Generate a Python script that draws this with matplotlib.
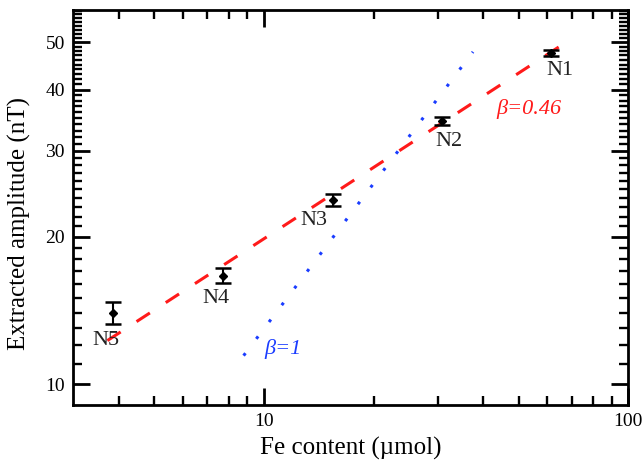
import matplotlib
matplotlib.use("Agg")
import matplotlib.pyplot as plt
from matplotlib.ticker import FixedLocator, NullFormatter

plt.rcParams.update({
    "font.family": ["Liberation Serif", "DejaVu Serif"],
})

# ── data ──────────────────────────────────────────────────────────────────────
samples = ["N1", "N2", "N3", "N4", "N5"]
fe_umol = [61.5, 30.8, 15.5, 7.72, 3.86]
amp_nT = [47.6, 34.5, 23.8, 16.67, 14.0]
amp_err = [0.7, 0.7, 0.65, 0.6, 0.75]

# guide lines: end points of the drawn fits
fit046_x = [3.72, 65.0]
fit046_y = [12.27, 49.1]
fit1_x = [8.8, 37.5]
fit1_y = [11.43, 47.8]

x_major = [10, 100]
x_minor = [4, 5, 6, 7, 8, 9, 20, 30, 40, 50, 60, 70, 80, 90]
y_major = [10, 20, 30, 40, 50]
y_minor = [v for v in range(9, 59) if v not in y_major]

# label offsets (points) from each data point
label_off = [(6.5, -12.5), (5, -14.5), (-14, -14.5), (-5, -16.3), (-5, -20)]

C_RED = "#ff1a1a"
C_BLUE = "#1a3cff"
W, H = 643, 462

fig = plt.figure(figsize=(W / 100, H / 100), dpi=100)
ax = fig.add_axes([0.114, 0.1234, 0.863, 0.8556])

ax.set_xscale("log")
ax.set_yscale("log")
ax.set_xlim(3.0, 100)
ax.set_ylim(9.06, 58.3)

ax.plot(fit046_x, fit046_y, color=C_RED, lw=2.2, dashes=(5.2, 6.2))
ax.plot(fit1_x, fit1_y, color=C_BLUE, lw=2.2, dashes=(1.0, 5.9))

ax.errorbar(fe_umol, amp_nT, yerr=amp_err, fmt="D", ms=4, color="black",
            ecolor="black", elinewidth=1.5, capsize=6, capthick=1.8, zorder=5)

for name, x, y, (dx, dy) in zip(samples, fe_umol, amp_nT, label_off):
    ax.annotate(name, (x, y), xytext=(dx, dy), textcoords="offset points",
                ha="center", va="center", fontsize=16, color="#222222")

# beta labels, placed in figure pixels (from top-left)
fig.text(529 / W, 1 - 109 / H, "\u03b2=0.46", fontsize=16, style="italic",
         color=C_RED, ha="center", va="center")
fig.text(283 / W, 1 - 349 / H, "\u03b2=1", fontsize=16, style="italic",
         color=C_BLUE, ha="center", va="center")

# ticks
ax.xaxis.set_major_locator(FixedLocator(x_major))
ax.xaxis.set_minor_locator(FixedLocator(x_minor))
ax.yaxis.set_major_locator(FixedLocator(y_major))
ax.yaxis.set_minor_locator(FixedLocator(y_minor))
ax.set_xticklabels([str(v) for v in x_major])
ax.set_yticklabels([str(v) for v in y_major])
ax.xaxis.set_minor_formatter(NullFormatter())
ax.yaxis.set_minor_formatter(NullFormatter())
ax.tick_params(which="both", direction="in", top=True, right=True,
               labelsize=14, pad=6)
ax.tick_params(which="major", length=12, width=2)
ax.tick_params(which="minor", length=6.5, width=1.7)
for s in ax.spines.values():
    s.set_linewidth(2)

fig.text(351 / W, 1 - 448.6 / H, "Fe content (\u00b5mol)", fontsize=18,
         ha="center", va="center")
fig.text(19 / W, 1 - 224 / H, "Extracted amplitude (nT)", fontsize=18,
         ha="center", va="center", rotation=90)

fig.savefig("out.png", dpi=100)
